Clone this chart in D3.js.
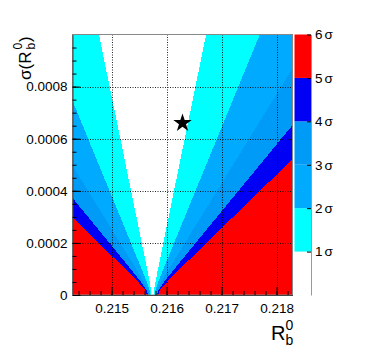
<!DOCTYPE html>
<html>
<head>
<meta charset="utf-8">
<script src="https://cdn.jsdelivr.net/npm/d3@7"></script>
<style>
  body { margin: 0; background: #fff; }
  text { font-family: "Liberation Sans", Arial, Helvetica, sans-serif; }
</style>
</head>
<body>
<div id="chart"></div>
<script>
var sigmaKnots = [0, 0.00002, 0.00005, 0.0001, 0.0002, 0.001];

// left / right edge of the 1..5 sigma contours (Rb values), one row per level
var leftEdges = [
  [0.215725, 0.215717, 0.215692, 0.215646, 0.215549, 0.214770],
  [0.215705, 0.215689, 0.215640, 0.215546, 0.215353, 0.213795],
  [0.215685, 0.215661, 0.215587, 0.215447, 0.215157, 0.212820],
  [0.215665, 0.215633, 0.215534, 0.215347, 0.214961, 0.211845],
  [0.215645, 0.215606, 0.215482, 0.215248, 0.214765, 0.210870]
];
var rightEdges = [
  [0.215765, 0.215773, 0.215798, 0.215845, 0.215941, 0.216720],
  [0.215785, 0.215801, 0.215850, 0.215944, 0.216137, 0.217695],
  [0.215805, 0.215829, 0.215903, 0.216044, 0.216333, 0.218670],
  [0.215825, 0.215857, 0.215956, 0.216143, 0.216529, 0.219645],
  [0.215845, 0.215885, 0.216009, 0.216243, 0.216725, 0.220620]
];

var measured = [0.21629, 0.00066];

var xTicks = [0.215, 0.216, 0.217, 0.218];
var yTicks = [0, 0.0002, 0.0004, 0.0006, 0.0008];
var zTicks = [1, 2, 3, 4, 5, 6];
var zLabels = ["1", "2", "3", "4", "5", "6"];

// colour of each band: <1, 1-2, 2-3, 3-4, 4-5, >5 sigma
var bandColors = ["#ffffff", "#00ffff", "#00aaff", "#009af7", "#0000f5", "#ff0000"];

var width = 366;
var height = 348;
var plot = { left: 72.5, right: 292.5, top: 34.5, bottom: 295 };
var pal = { left: 294.5, right: 311 };

var svg = d3.select("#chart").append("svg")
  .attr("width", width).attr("height", height);

var x = d3.scaleLinear().domain([0.21429, 0.21829]).range([plot.left, plot.right]);
var y = d3.scaleLinear().domain([0, 0.001]).range([plot.bottom, plot.top]);
var z = d3.scaleLinear().domain([0, 6]).range([plot.bottom, plot.top]);

svg.append("clipPath").attr("id", "clip")
  .append("rect")
  .attr("x", plot.left).attr("y", plot.top)
  .attr("width", plot.right - plot.left).attr("height", plot.bottom - plot.top);

var bands = svg.append("g").attr("clip-path", "url(#clip)");

// everything beyond 5 sigma
bands.append("rect")
  .attr("x", plot.left).attr("y", plot.top)
  .attr("width", plot.right - plot.left).attr("height", plot.bottom - plot.top)
  .attr("fill", bandColors[5]);

// paint the wedges from the outside in
for (var k = 5; k >= 1; k--) {
  var area = d3.area()
    .y(function(d) { return y(d); })
    .x0(function(d, i) { return x(leftEdges[k - 1][i]); })
    .x1(function(d, i) { return x(rightEdges[k - 1][i]); });
  bands.append("path")
    .attr("d", area(sigmaKnots))
    .attr("fill", bandColors[k - 1])
    .attr("shape-rendering", "crispEdges");
}

// dotted grid
var grid = svg.append("g").attr("stroke", "#000").attr("stroke-width", 1)
  .attr("stroke-dasharray", "1,1.5").attr("opacity", 0.85);
xTicks.forEach(function(t) {
  grid.append("line")
    .attr("x1", Math.round(x(t)) + 0.5).attr("x2", Math.round(x(t)) + 0.5)
    .attr("y1", plot.top).attr("y2", plot.bottom);
});
yTicks.slice(1).forEach(function(t) {
  grid.append("line")
    .attr("x1", plot.left).attr("x2", plot.right)
    .attr("y1", Math.round(y(t)) + 0.5).attr("y2", Math.round(y(t)) + 0.5);
});

// star for the measurement
svg.append("path")
  .attr("d", d3.symbol().type(d3.symbolStar).size(105)())
  .attr("transform", "translate(" + x(measured[0]) + "," + y(measured[1]) + ")")
  .attr("fill", "#000");

// frame
svg.append("rect")
  .attr("x", plot.left).attr("y", plot.top)
  .attr("width", plot.right - plot.left).attr("height", plot.bottom - plot.top)
  .attr("fill", "none").attr("stroke", "#888");

// x axis
var xMinor = d3.range(0.2144, 0.21829, 0.0002);
svg.append("g")
  .attr("transform", "translate(0," + plot.bottom + ")")
  .call(d3.axisBottom(x).tickValues(xMinor).tickSize(-4).tickFormat("").tickSizeOuter(0))
  .call(function(g) { g.select(".domain").attr("stroke", "#444"); });
svg.append("g")
  .attr("transform", "translate(0," + plot.bottom + ")")
  .call(d3.axisBottom(x).tickValues(xTicks).tickSize(-8).tickPadding(8).tickSizeOuter(0)
    .tickFormat(d3.format(".3f")))
  .call(function(g) {
    g.select(".domain").remove();
    g.selectAll("text").attr("font-size", 13.5).attr("fill", "#000");
  });

// y axis
var yMinor = d3.range(0.00005, 0.001, 0.00005);
svg.append("g")
  .attr("transform", "translate(" + plot.left + ",0)")
  .call(d3.axisLeft(y).tickValues(yMinor).tickSize(-4).tickFormat("").tickSizeOuter(0))
  .call(function(g) { g.select(".domain").attr("stroke", "#444"); });
svg.append("g")
  .attr("transform", "translate(" + plot.left + ",0)")
  .call(d3.axisLeft(y).tickValues(yTicks).tickSize(-8).tickPadding(5).tickSizeOuter(0)
    .tickFormat(function(d) { return d === 0 ? "0" : d3.format(".4f")(d); }))
  .call(function(g) {
    g.select(".domain").remove();
    g.selectAll("text").attr("font-size", 13.5).attr("fill", "#000");
  });

// palette
var palette = svg.append("g");
for (var b = 1; b <= 5; b++) {
  palette.append("rect")
    .attr("x", pal.left).attr("width", pal.right - pal.left)
    .attr("y", z(b + 1)).attr("height", z(b) - z(b + 1))
    .attr("fill", bandColors[b]);
}
var zAxis = svg.append("g")
  .attr("transform", "translate(" + pal.right + ",0)")
  .call(d3.axisRight(z).tickValues(zTicks).tickSize(-4).tickPadding(4).tickSizeOuter(0)
    .tickFormat(""));
zAxis.select(".domain").attr("stroke", "#999");
zAxis.selectAll(".tick text").each(function(d, i) {
  var t = d3.select(this).attr("font-size", 13.5).attr("fill", "#000");
  t.append("tspan").text(zLabels[i]);
  t.append("tspan").attr("dx", 2).text("σ");
});

// axis titles: main letter, subscript and superscript as separate texts
function title(g, main, size, sub) {
  g.append("text").attr("font-size", size).text(main);
}

var xt = svg.append("g").attr("transform", "translate(271,340)");
xt.append("text").attr("font-size", 20).text("R");
xt.append("text").attr("x", 14.5).attr("y", 5).attr("font-size", 14).text("b");
xt.append("text").attr("x", 14.5).attr("y", -10).attr("font-size", 14).text("0");

var yt = svg.append("g").attr("transform", "translate(31,80) rotate(-90)");
yt.append("text").attr("font-size", 17).text("σ(R");
yt.append("text").attr("x", 30.5).attr("y", 4).attr("font-size", 12).text("b");
yt.append("text").attr("x", 30.5).attr("y", -9).attr("font-size", 12).text("0");
yt.append("text").attr("x", 38).attr("font-size", 17).text(")");
</script>
</body>
</html>
